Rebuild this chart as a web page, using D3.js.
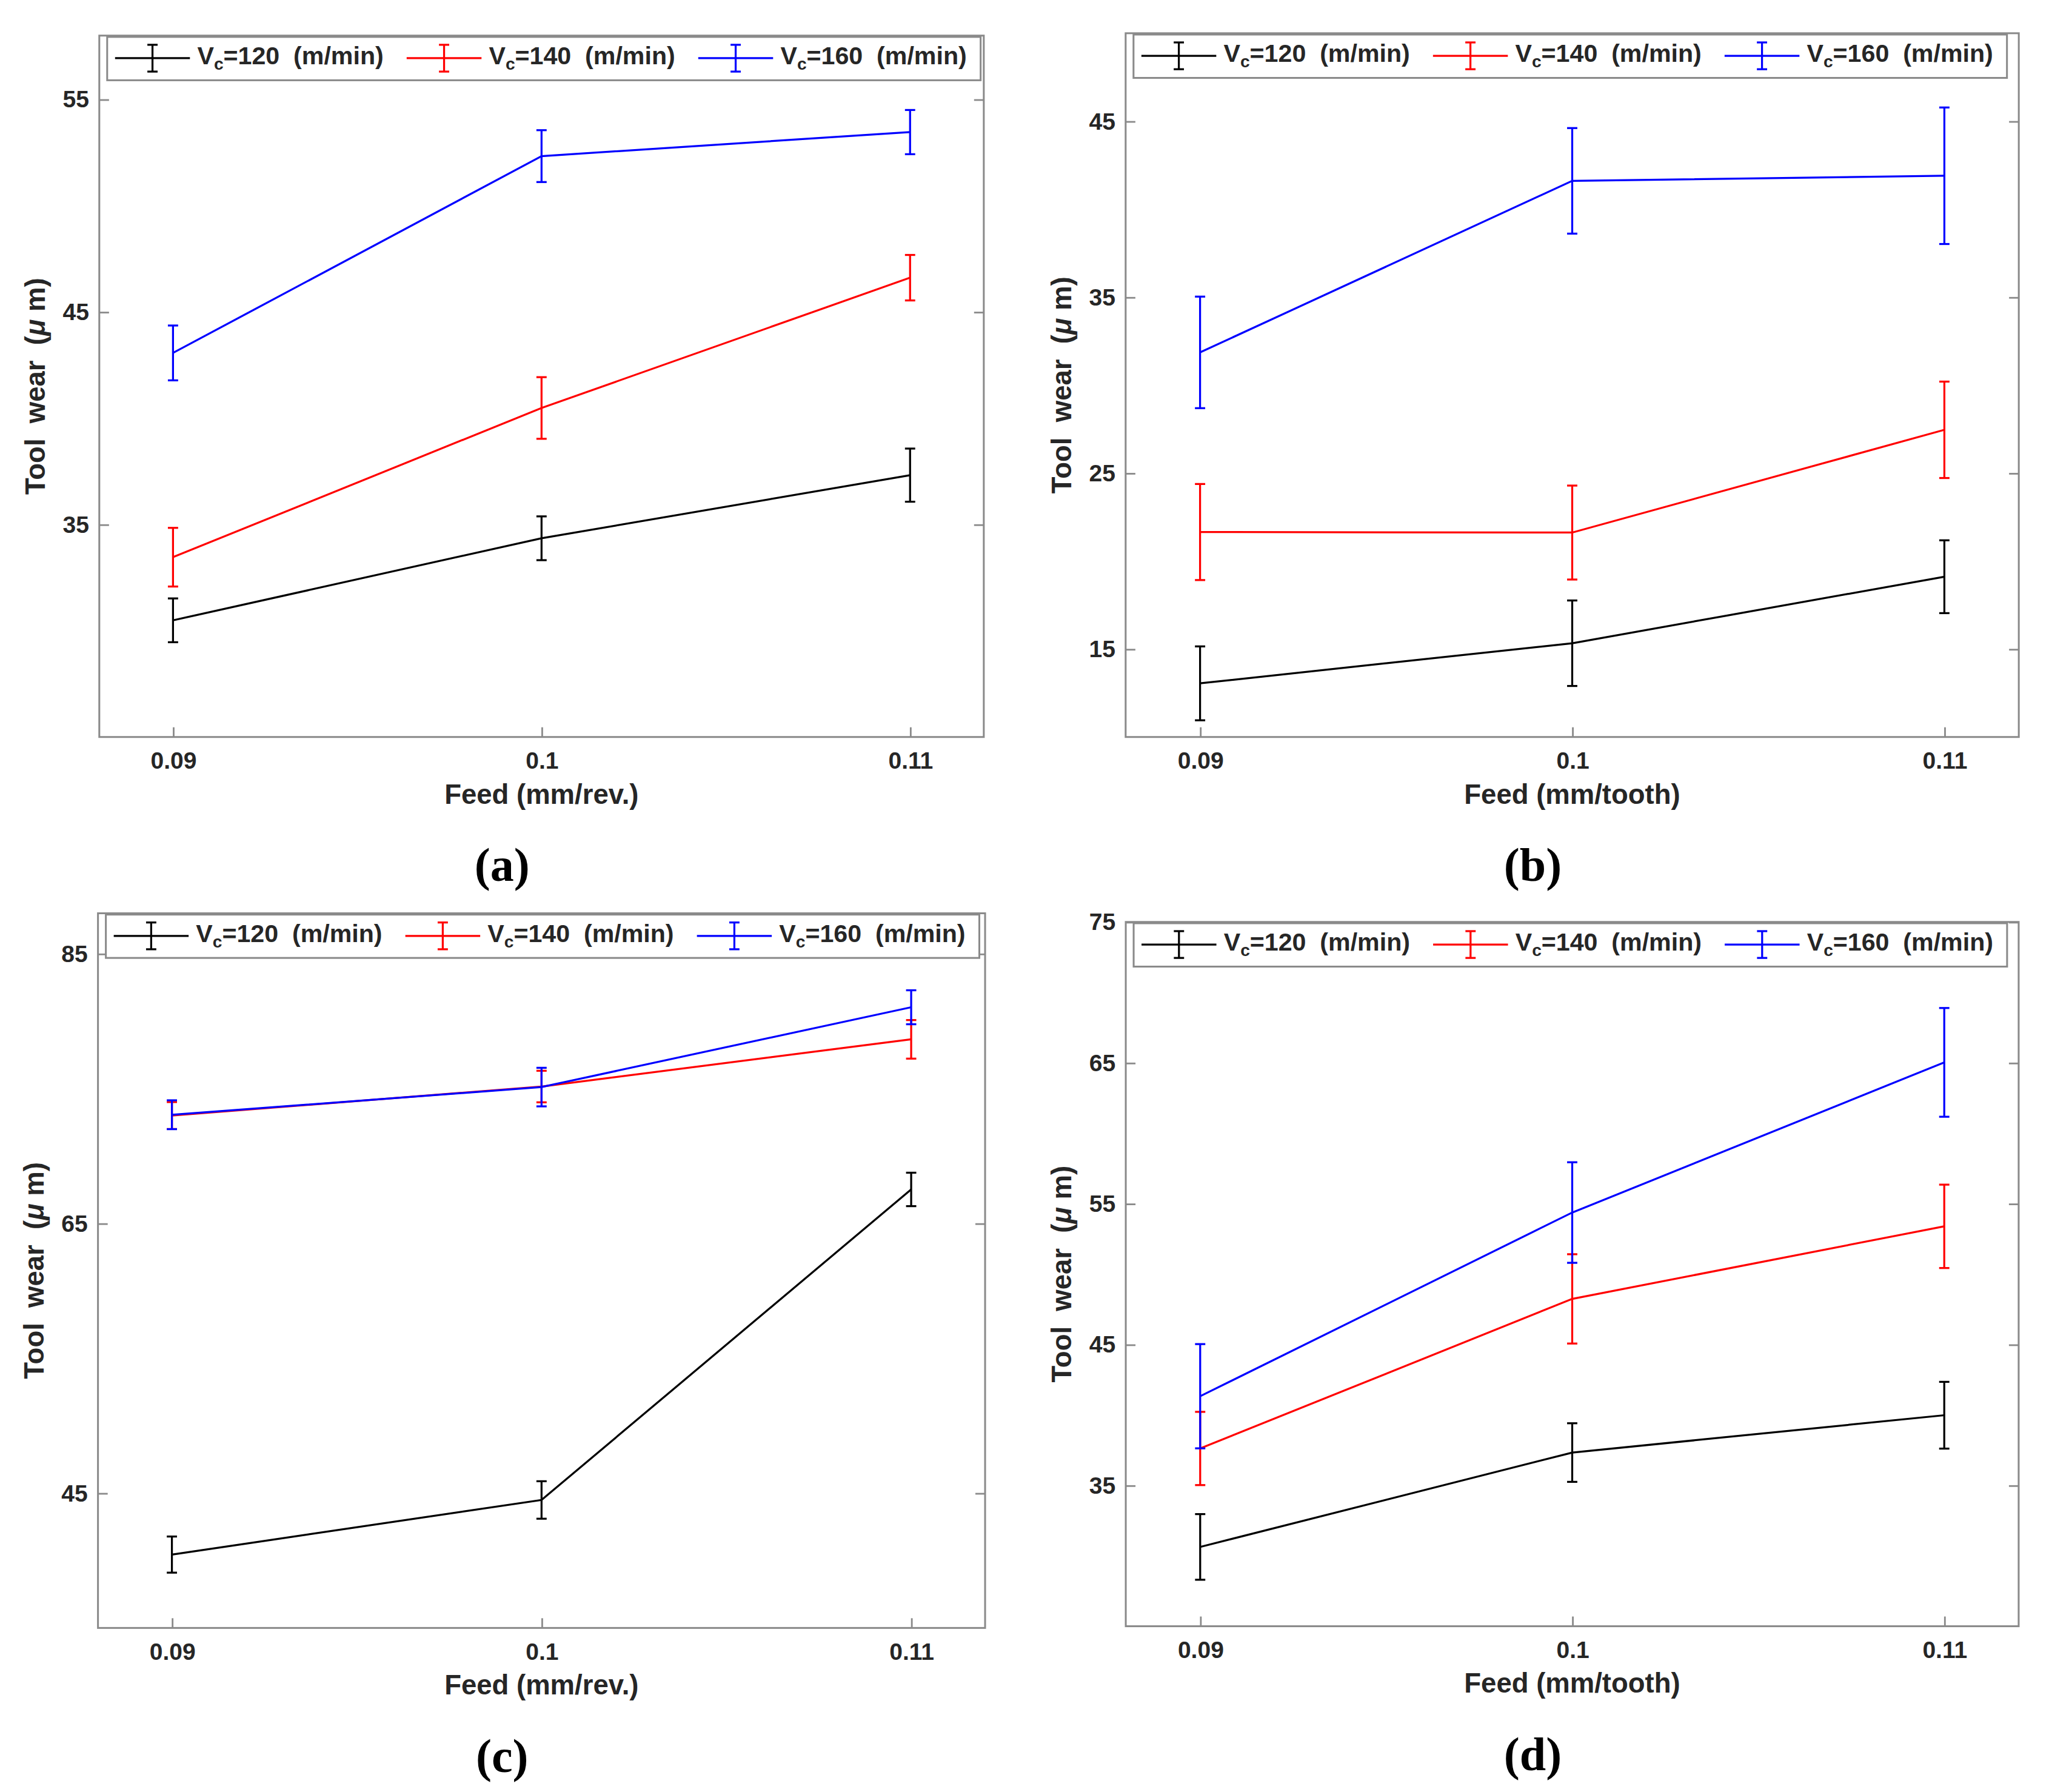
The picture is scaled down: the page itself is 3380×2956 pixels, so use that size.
<!DOCTYPE html>
<html><head><meta charset="utf-8">
<script src="https://cdn.jsdelivr.net/npm/d3@7"></script>
<style>body{margin:0;background:#fff}</style>
</head><body>
<svg id="c" width="3380" height="2956" viewBox="0 0 1560 1364.3"></svg>
<script>
// ---------- data ----------
const feeds = [0.09, 0.1, 0.11];
const feedLabels = ["0.09", "0.1", "0.11"];
const speeds = ["120", "140", "160"];

// panel (a): turning, feed mm/rev
const meanA = [[30.49, 34.35, 37.32], [33.46, 40.48, 46.61], [43.07, 52.33, 53.46]];
const errA  = [[1.03, 1.03, 1.25], [1.38, 1.45, 1.07], [1.29, 1.22, 1.04]];
const yTicksA = [35, 45, 55];
const yDomA = [25, 58];

// panel (b): milling, feed mm/tooth
const meanB = [[13.05, 15.33, 19.11], [21.65, 21.62, 27.46], [31.86, 41.61, 41.90]];
const errB  = [[2.10, 2.43, 2.07], [2.73, 2.67, 2.74], [3.17, 3.00, 3.88]];
const yTicksB = [15, 25, 35, 45];
const yDomB = [10, 50];

// panel (c)
const meanC = [[40.44, 44.49, 67.52], [73.00, 75.15, 78.65], [73.06, 75.11, 81.03]];
const errC  = [[1.34, 1.39, 1.24], [1.00, 1.17, 1.43], [1.07, 1.43, 1.26]];
const yTicksC = [45, 65, 85];
const yDomC = [35, 88];

// panel (d)
const meanD = [[30.63, 37.33, 39.98], [37.62, 48.24, 53.39], [41.33, 54.37, 65.03]];
const errD  = [[2.33, 2.08, 2.37], [2.60, 3.17, 2.96], [3.70, 3.57, 3.86]];
const yTicksD = [35, 45, 55, 65, 75];
const yDomD = [25, 75];

const xDom = [0.088, 0.112];
const xTitles = ["Feed (mm/rev.)", "Feed (mm/tooth)"];
const panelLetters = ["(a)", "(b)", "(c)", "(d)"];

// ---------- styles / layout ----------
const colors = ["#000000", "#ff0000", "#0000ff"];
const axisColor = "#8a8a8a";
const textColor = "#262626";
const sans = "'Liberation Sans', Arial, Helvetica, sans-serif";
const serif = "'Liberation Serif', 'Times New Roman', serif";

const panels = [
  {L: 75.6, R: 749.0, T: 27.1, B: 561.1, mean: meanA, err: errA, ticks: yTicksA, dom: yDomA, xt: xTitles[0], letter: panelLetters[0]},
  {L: 857.0, R: 1537.0, T: 25.3, B: 561.1, mean: meanB, err: errB, ticks: yTicksB, dom: yDomB, xt: xTitles[1], letter: panelLetters[1]},
  {L: 74.6, R: 750.0, T: 695.3, B: 1239.4, mean: meanC, err: errC, ticks: yTicksC, dom: yDomC, xt: xTitles[0], letter: panelLetters[2]},
  {L: 857.1, R: 1536.9, T: 701.9, B: 1238.1, mean: meanD, err: errD, ticks: yTicksD, dom: yDomD, xt: xTitles[1], letter: panelLetters[3]}
];

const svg = d3.select("#c");
svg.append("rect").attr("x", 0).attr("y", 0).attr("width", 1560).attr("height", 1364.3).attr("fill", "#fff");

const TICK = 7.4;
const CAP = 3.9;

function drawPanel(p) {
  const g = svg.append("g");
  const x = d3.scaleLinear().domain(xDom).range([p.L, p.R]);
  const y = d3.scaleLinear().domain(p.dom).range([p.B, p.T]);

  const styleAxis = sel => {
    sel.select(".domain").remove();
    sel.selectAll(".tick line").attr("stroke", axisColor).attr("stroke-width", 1.3);
    sel.selectAll(".tick text").attr("fill", textColor)
      .style("font-family", sans).style("font-size", "18px").style("font-weight", "bold");
  };

  g.append("g").attr("transform", `translate(${p.L},0)`)
    .call(d3.axisLeft(y).tickValues(p.ticks).tickSize(-TICK).tickPadding(7.8).tickFormat(d3.format("d")))
    .call(styleAxis);
  g.append("g").attr("transform", `translate(${p.R},0)`)
    .call(d3.axisRight(y).tickValues(p.ticks).tickSize(-TICK).tickFormat(""))
    .call(styleAxis);
  g.append("g").attr("transform", `translate(0,${p.B})`)
    .call(d3.axisBottom(x).tickValues(feeds).tickSize(-TICK).tickPadding(11.5).tickFormat((d, i) => feedLabels[i]))
    .call(styleAxis);
  g.append("g").attr("transform", `translate(0,${p.T})`)
    .call(d3.axisTop(x).tickValues(feeds).tickSize(-TICK).tickFormat(""))
    .call(styleAxis);

  // data lines and error bars
  const line = d3.line().x((d, i) => x(feeds[i])).y(d => y(d));
  p.mean.forEach((ser, s) => {
    const sg = g.append("g");
    sg.append("path").datum(ser).attr("d", line).attr("fill", "none")
      .attr("stroke", colors[s]).attr("stroke-width", 1.5);
    ser.forEach((m, i) => {
      const e = p.err[s][i];
      const cx = x(feeds[i]);
      const y1 = y(m + e), y2 = y(m - e);
      sg.append("line").attr("x1", cx).attr("x2", cx).attr("y1", y1).attr("y2", y2)
        .attr("stroke", colors[s]).attr("stroke-width", 1.5);
      [y1, y2].forEach(yy => sg.append("line").attr("x1", cx - CAP).attr("x2", cx + CAP)
        .attr("y1", yy).attr("y2", yy).attr("stroke", colors[s]).attr("stroke-width", 1.5));
    });
  });

  // box
  g.append("rect").attr("x", p.L).attr("y", p.T).attr("width", p.R - p.L).attr("height", p.B - p.T)
    .attr("fill", "none").attr("stroke", axisColor).attr("stroke-width", 1.4);

  // legend
  const lx = p.L + 6, ly = p.T + 1, lw = 665, lh = 33;
  const lg = g.append("g");
  lg.append("rect").attr("x", lx).attr("y", ly).attr("width", lw).attr("height", lh)
    .attr("fill", "#fff").attr("stroke", axisColor).attr("stroke-width", 1.4);
  speeds.forEach((sp, s) => {
    const ox = lx + 6 + s * 222;
    const cy = ly + 16.2;
    lg.append("line").attr("x1", ox).attr("x2", ox + 57).attr("y1", cy).attr("y2", cy)
      .attr("stroke", colors[s]).attr("stroke-width", 1.5);
    const ex = ox + 28.5;
    lg.append("line").attr("x1", ex).attr("x2", ex).attr("y1", cy - 10.2).attr("y2", cy + 10.2)
      .attr("stroke", colors[s]).attr("stroke-width", 1.5);
    [cy - 10.2, cy + 10.2].forEach(yy => lg.append("line").attr("x1", ex - CAP).attr("x2", ex + CAP)
      .attr("y1", yy).attr("y2", yy).attr("stroke", colors[s]).attr("stroke-width", 1.5));
    const t = lg.append("text").attr("x", ox + 62.6).attr("y", ly + 21)
      .style("font-family", sans).style("font-size", "19px").style("font-weight", "bold")
      .style("white-space", "pre").attr("fill", textColor);
    t.append("tspan").text("V");
    t.append("tspan").attr("dy", 4).style("font-size", "13px").text("c");
    t.append("tspan").attr("dy", -4).text("=" + sp + "  (m/min)");
  });

  // axis titles
  g.append("text").attr("x", x(0.1)).attr("y", p.B + 50.7).attr("text-anchor", "middle")
    .style("font-family", sans).style("font-size", "21px").style("font-weight", "bold")
    .attr("fill", textColor).text(p.xt);
  const yt = g.append("text")
    .attr("transform", `translate(${p.L - 41.6},${(p.T + p.B) / 2}) rotate(-90)`)
    .attr("text-anchor", "middle").style("white-space", "pre")
    .style("font-family", sans).style("font-size", "21px").style("font-weight", "bold")
    .attr("fill", textColor);
  yt.append("tspan").text("Tool  wear  (");
  yt.append("tspan").style("font-style", "italic").text("\u03bc");
  yt.append("tspan").text(" m)");

  // panel letter
  svg.append("text").attr("x", (p.L + p.R) / 2 - 30).attr("y", p.B + 109.7).attr("text-anchor", "middle")
    .style("font-family", serif).style("font-size", "36px").style("font-weight", "bold")
    .attr("fill", "#000").text(p.letter);
}

panels.forEach(drawPanel);
</script>
</body></html>
